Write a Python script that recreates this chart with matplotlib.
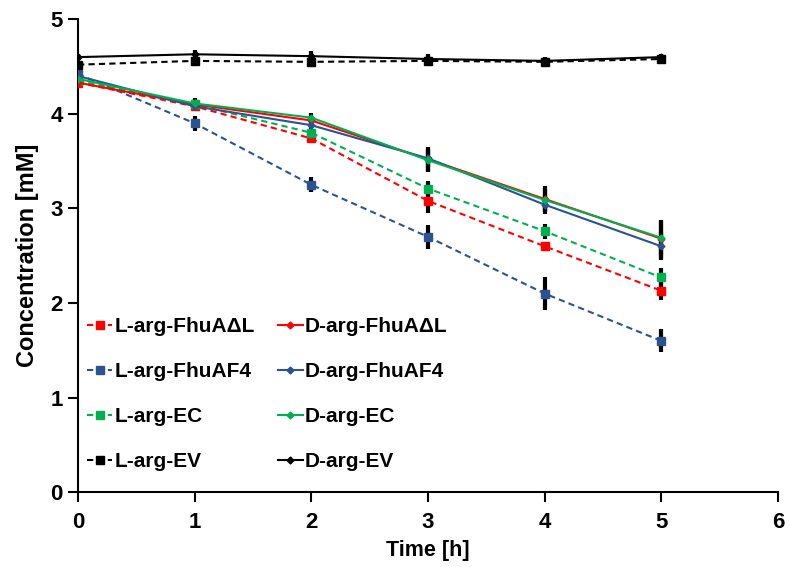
import matplotlib
matplotlib.use("Agg")
import matplotlib.pyplot as plt

plt.rcParams['font.family'] = ['Liberation Sans', 'DejaVu Sans']
plt.rcParams['font.weight'] = 'bold'

time_h = [0, 1, 2, 3, 4, 5]

L_FhuAdL = [4.33, 4.08, 3.74, 3.08, 2.60, 2.13]
L_FhuAdL_err = [0.03, 0.04, 0.04, 0.13, 0.05, 0.10]
D_FhuAdL = [4.33, 4.10, 3.93, 3.52, 3.10, 2.68]
D_FhuAdL_err = [0.03, 0.07, 0.05, 0.13, 0.14, 0.20]

L_FhuAF4 = [4.42, 3.90, 3.25, 2.70, 2.10, 1.60]
L_FhuAF4_err = [0.03, 0.08, 0.08, 0.13, 0.17, 0.12]
D_FhuAF4 = [4.40, 4.08, 3.88, 3.53, 3.04, 2.60]
D_FhuAF4_err = [0.03, 0.05, 0.05, 0.10, 0.10, 0.15]

L_EC = [4.35, 4.10, 3.80, 3.21, 2.76, 2.27]
L_EC_err = [0.03, 0.04, 0.04, 0.08, 0.08, 0.10]
D_EC = [4.37, 4.11, 3.96, 3.51, 3.09, 2.69]
D_EC_err = [0.03, 0.05, 0.05, 0.12, 0.12, 0.18]

L_EV = [4.52, 4.56, 4.55, 4.56, 4.55, 4.58]
L_EV_err = [0.03, 0.03, 0.04, 0.05, 0.04, 0.03]
D_EV = [4.60, 4.63, 4.61, 4.58, 4.56, 4.60]
D_EV_err = [0.03, 0.04, 0.05, 0.05, 0.04, 0.03]

red = '#FF0000'
blue = '#2B5390'
green = '#00B050'
black = '#000000'

fig = plt.figure(figsize=(7.89, 5.67), dpi=100)
ax = fig.add_axes([0.0989, 0.132, 0.887, 0.834])

series = [
    ('L-arg-FhuAΔL', L_FhuAdL, L_FhuAdL_err, red, '--', 's', 5.5),
    ('L-arg-FhuAF4', L_FhuAF4, L_FhuAF4_err, blue, '--', 's', 5.5),
    ('L-arg-EC', L_EC, L_EC_err, green, '--', 's', 5.5),
    ('L-arg-EV', L_EV, L_EV_err, black, '--', 's', 5.5),
    ('D-arg-FhuAΔL', D_FhuAdL, D_FhuAdL_err, red, '-', 'D', 3.5),
    ('D-arg-FhuAF4', D_FhuAF4, D_FhuAF4_err, blue, '-', 'D', 3.5),
    ('D-arg-EC', D_EC, D_EC_err, green, '-', 'D', 3.5),
    ('D-arg-EV', D_EV, D_EV_err, black, '-', 'D', 3.5),
]

handles = []
for label, y, e, c, ls, m, ms in series:
    ax.errorbar(time_h, y, yerr=e, fmt='none', ecolor='black', elinewidth=3, capsize=0, zorder=2)
    h, = ax.plot(time_h, y, color=c, linestyle=ls, marker=m, markersize=ms,
                 linewidth=1.5, label=label, zorder=3,
                 dashes=(3, 2) if ls == '--' else (None, None))
    handles.append(h)

ax.set_xlim(0, 6)
ax.set_ylim(0, 5)
ax.set_xticks(range(0, 7))
ax.set_yticks(range(0, 6))
ax.tick_params(axis='both', labelsize=16, width=1.5, length=7, direction='out', pad=4)
ax.tick_params(axis='x', pad=7)
for lab in ax.get_xticklabels() + ax.get_yticklabels():
    lab.set_fontweight('bold')
for s in ['top', 'right']:
    ax.spines[s].set_visible(False)
for s in ['left', 'bottom']:
    ax.spines[s].set_linewidth(1.5)

ax.set_xlabel('Time [h]', fontsize=15.5, fontweight='bold', labelpad=5)
ax.set_ylabel('Concentration [mM]', fontsize=17, fontweight='bold', labelpad=8)

ax.legend(handles=handles, ncol=2, loc='upper left', bbox_to_anchor=(0.013, 0.37),
          borderaxespad=0, borderpad=0, frameon=False, handlelength=1.2,
          handletextpad=0.1, labelspacing=1.25, columnspacing=1.1,
          prop={'weight': 'bold', 'size': 15})

fig.savefig('out.png', dpi=100)
